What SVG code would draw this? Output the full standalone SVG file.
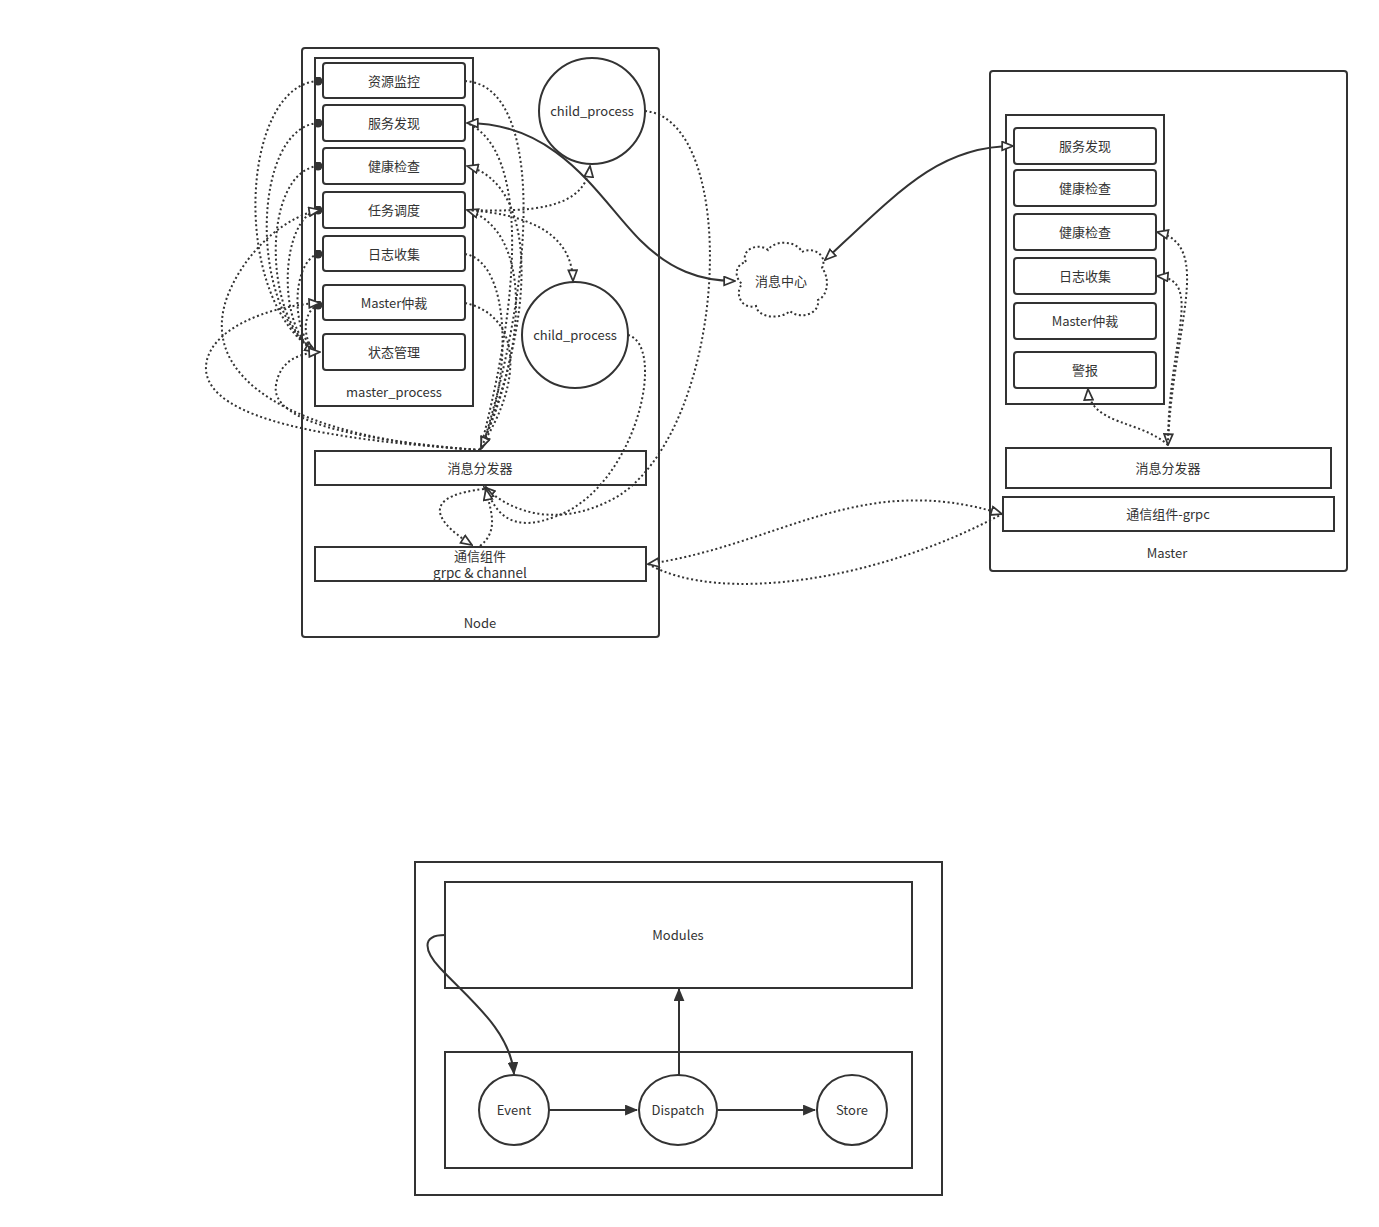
<svg xmlns="http://www.w3.org/2000/svg" width="1379" height="1227" viewBox="0 0 1379 1227">
<style>
.box{fill:#fff;stroke:#333;stroke-width:2}
.t{font-family:"Noto Sans CJK SC","Noto Sans",sans-serif;font-size:13px;fill:#333;text-anchor:middle;dominant-baseline:central}
.d{fill:none;stroke:#333;stroke-width:2;stroke-dasharray:2 2.6}
.s{fill:none;stroke:#333;stroke-width:2}
</style>
<defs>
<marker id="ao" viewBox="0 0 12 10" refX="11" refY="5" markerWidth="13" markerHeight="11" markerUnits="userSpaceOnUse" orient="auto-start-reverse"><path d="M1,1 L11,5 L1,9 z" fill="#fff" stroke="#333" stroke-width="1.6"/></marker>
<marker id="dot" viewBox="0 0 10 10" refX="5" refY="5" markerWidth="9" markerHeight="9" markerUnits="userSpaceOnUse"><circle cx="5" cy="5" r="5" fill="#333"/></marker>
<marker id="af" viewBox="0 0 12 10" refX="11" refY="5" markerWidth="13" markerHeight="11" markerUnits="userSpaceOnUse" orient="auto"><path d="M0,0 L12,5 L0,10 z" fill="#333"/></marker>
</defs>
<rect width="1379" height="1227" fill="#fff"/>

<g id="node">
<rect class="box" x="302" y="48" width="357" height="589" rx="3"/>
<text class="t" x="480" y="622">Node</text>
</g>
<g id="master_process">
<rect class="box" x="315" y="58" width="158" height="348"/>
<text class="t" x="394" y="391">master_process</text>
</g>
<g id="n_ziyuan"><rect class="box" x="323" y="63" width="142" height="35" rx="3"/><text class="t" x="394" y="80">资源监控</text></g>
<g id="n_fuwu"><rect class="box" x="323" y="105" width="142" height="36" rx="3"/><text class="t" x="394" y="122">服务发现</text></g>
<g id="n_jiankang"><rect class="box" x="323" y="148" width="142" height="36" rx="3"/><text class="t" x="394" y="165">健康检查</text></g>
<g id="n_renwu"><rect class="box" x="323" y="192" width="142" height="36" rx="3"/><text class="t" x="394" y="209">任务调度</text></g>
<g id="n_rizhi"><rect class="box" x="323" y="236" width="142" height="35" rx="3"/><text class="t" x="394" y="253">日志收集</text></g>
<g id="n_master"><rect class="box" x="323" y="285" width="142" height="35" rx="3"/><text class="t" x="394" y="302">Master仲裁</text></g>
<g id="n_zhuangtai"><rect class="box" x="323" y="334" width="142" height="36" rx="3"/><text class="t" x="394" y="351">状态管理</text></g>
<g id="child1"><circle class="box" cx="592" cy="111" r="53"/><text class="t" x="592" y="110">child_process</text></g>
<g id="child2"><circle class="box" cx="575" cy="335" r="53"/><text class="t" x="575" y="334">child_process</text></g>
<g id="n_fenfa"><rect class="box" x="315" y="451" width="331" height="34"/><text class="t" x="480" y="467">消息分发器</text></g>
<g id="n_tongxin"><rect class="box" x="315" y="547" width="331" height="34"/><text class="t" x="480" y="555">通信组件</text><text class="t" x="480" y="572" style="font-size:13.5px">grpc &amp; channel</text></g>

<g id="cloud">
<path d="M746,262 C740,250 758,242 768,250 C774,240 796,240 802,252 C814,246 828,256 822,268 C830,278 828,296 818,300 C820,314 800,320 790,311 C780,320 758,318 756,306 C742,310 734,294 742,284 C733,276 736,264 746,262 Z" fill="#fff" stroke="#333" stroke-width="2" stroke-dasharray="2 2.6"/>
<text class="t" x="781" y="280">消息中心</text>
</g>

<g id="master">
<rect class="box" x="990" y="71" width="357" height="500" rx="3"/>
<text class="t" x="1167" y="552">Master</text>
</g>
<g id="m_inner"><rect class="box" x="1006" y="115" width="158" height="289"/></g>
<g id="m_fuwu"><rect class="box" x="1014" y="128" width="142" height="36" rx="3"/><text class="t" x="1085" y="145">服务发现</text></g>
<g id="m_jiankang1"><rect class="box" x="1014" y="170" width="142" height="36" rx="3"/><text class="t" x="1085" y="187">健康检查</text></g>
<g id="m_jiankang2"><rect class="box" x="1014" y="214" width="142" height="36" rx="3"/><text class="t" x="1085" y="231">健康检查</text></g>
<g id="m_rizhi"><rect class="box" x="1014" y="258" width="142" height="36" rx="3"/><text class="t" x="1085" y="275">日志收集</text></g>
<g id="m_master"><rect class="box" x="1014" y="303" width="142" height="36" rx="3"/><text class="t" x="1085" y="320">Master仲裁</text></g>
<g id="m_jingbao"><rect class="box" x="1014" y="352" width="142" height="36" rx="3"/><text class="t" x="1085" y="369">警报</text></g>
<g id="m_fenfa"><rect class="box" x="1006" y="448" width="325" height="40"/><text class="t" x="1168" y="467">消息分发器</text></g>
<g id="m_tongxin"><rect class="box" x="1003" y="497" width="331" height="34"/><text class="t" x="1168" y="513">通信组件-grpc</text></g>

<g id="b_outer"><rect class="box" x="415" y="862" width="527" height="333"/></g>
<g id="b_modules"><rect class="box" x="445" y="882" width="467" height="106"/><text class="t" x="678" y="934">Modules</text></g>
<g id="b_lower"><rect class="box" x="445" y="1052" width="467" height="116"/></g>
<g id="b_event"><ellipse class="box" cx="514" cy="1110" rx="35" ry="35"/><text class="t" x="514" y="1109">Event</text></g>
<g id="b_dispatch"><ellipse class="box" cx="678" cy="1110" rx="39" ry="35"/><text class="t" x="678" y="1109">Dispatch</text></g>
<g id="b_store"><ellipse class="box" cx="852" cy="1110" rx="35" ry="35"/><text class="t" x="852" y="1109">Store</text></g>

<g id="connectors">
<path class="s" d="M467,123 C560,123 600,200 640,240 C670,270 700,281 735,281" marker-start="url(#ao)" marker-end="url(#ao)"/>
<path class="s" d="M825,260 C900,190 940,146 1013,146" marker-start="url(#ao)" marker-end="url(#ao)"/>

<path class="d" d="M318,81 C240,85 230,300 316,352" marker-start="url(#dot)" marker-end="url(#ao)"/>
<path class="d" d="M318,123 C252,128 248,310 316,352" marker-start="url(#dot)"/>
<path class="d" d="M318,166 C262,172 262,320 316,352" marker-start="url(#dot)"/>
<path class="d" d="M318,210 C280,218 276,330 316,352" marker-start="url(#dot)"/>
<path class="d" d="M318,254 C292,262 290,332 316,352" marker-start="url(#dot)"/>
<path class="d" d="M318,305 C302,312 302,340 316,352" marker-start="url(#dot)"/>
<path class="d" d="M480,450 C300,440 190,380 230,290 C250,245 290,215 320,210" marker-end="url(#ao)"/>
<path class="d" d="M480,450 C330,440 210,420 206,370 C204,330 270,305 320,303" marker-end="url(#ao)"/>
<path class="d" d="M480,450 C350,440 270,420 276,385 C280,360 300,353 320,352" marker-end="url(#ao)"/>

<path class="d" d="M465,81 C540,85 540,260 482,448" marker-end="url(#ao)"/>
<path class="d" d="M480,450 C520,300 530,150 467,123"/>
<path class="d" d="M480,450 C535,320 540,185 467,166" marker-end="url(#ao)"/>
<path class="d" d="M480,450 C530,340 530,230 467,210" marker-end="url(#ao)"/>
<path class="d" d="M465,254 C512,262 512,380 481,448" marker-end="url(#ao)"/>
<path class="d" d="M465,303 C520,315 525,380 480,448"/>
<path class="d" d="M467,210 C530,212 585,210 590,166" marker-end="url(#ao)"/>
<path class="d" d="M467,210 C540,215 572,240 573,281" marker-end="url(#ao)"/>

<path class="d" d="M645,111 C740,120 730,420 620,495 C570,525 520,520 484,487" marker-end="url(#ao)"/>
<path class="d" d="M628,335 C665,345 640,470 570,510 C530,530 500,530 486,487" marker-end="url(#ao)"/>

<path class="d" d="M484,489 C430,495 425,515 472,545" marker-end="url(#ao)"/>
<path class="d" d="M480,546 C500,530 490,510 486,489" marker-end="url(#ao)"/>

<path class="d" d="M648,564 C780,545 860,470 1002,514" marker-start="url(#ao)" marker-end="url(#ao)"/>
<path class="d" d="M648,564 C720,605 880,580 1002,514"/>

<path class="d" d="M1168,445 C1172,330 1215,245 1157,232" marker-start="url(#ao)" marker-end="url(#ao)"/>
<path class="d" d="M1168,445 C1168,340 1205,280 1157,276" marker-end="url(#ao)"/>
<path class="d" d="M1168,445 C1140,420 1090,425 1088,389" marker-end="url(#ao)"/>

<path class="s" d="M549,1110 L637,1110" marker-end="url(#af)"/>
<path class="s" d="M718,1110 L815,1110" marker-end="url(#af)"/>
<path class="s" d="M679,1075 L679,989" marker-end="url(#af)"/>
<path class="s" d="M445,935 C420,935 425,952 440,968 C470,1000 510,1030 514,1074" marker-end="url(#af)"/>
</g>
</svg>
